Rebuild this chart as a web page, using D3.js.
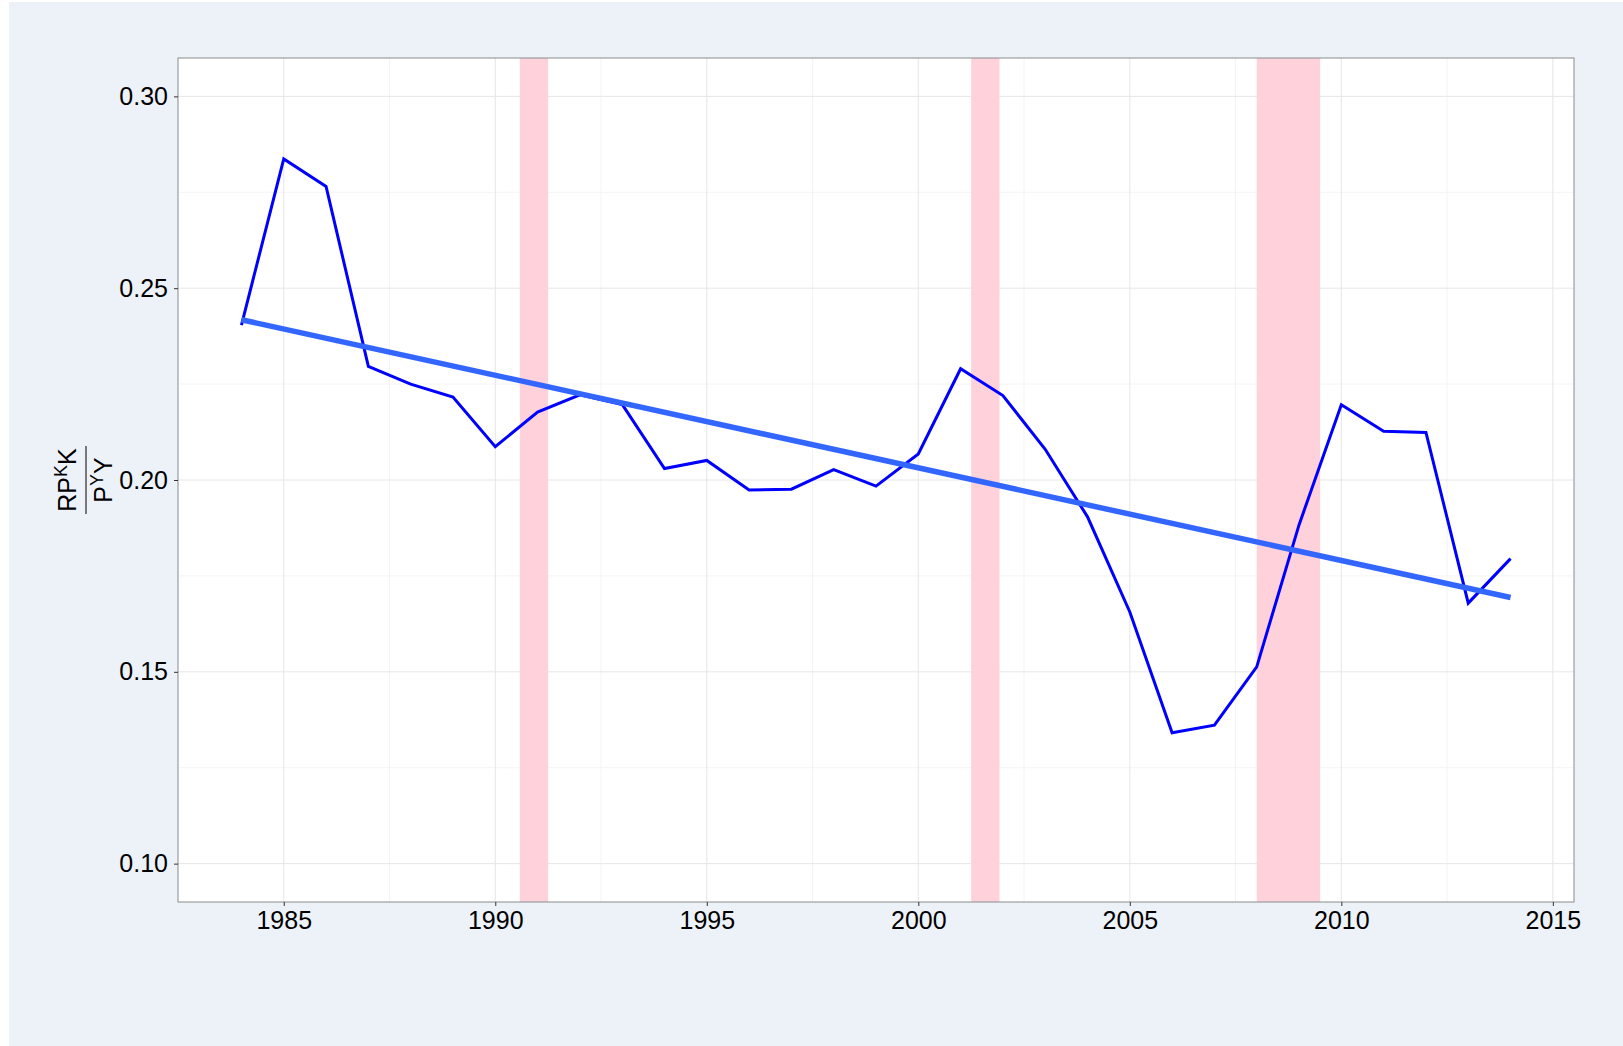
<!DOCTYPE html>
<html>
<head>
<meta charset="utf-8">
<script src="https://cdn.jsdelivr.net/npm/d3@7"></script>
<style>
  body { margin: 0; background: #fff; }
  text { font-family: "Liberation Sans", Arial, sans-serif; }
</style>
</head>
<body>
<script>
// data
var years = d3.range(1984, 2015);
var share = [0.2404, 0.2837, 0.2765, 0.2296, 0.2250, 0.2216, 0.2087, 0.2177, 0.2222, 0.2197,
             0.2030, 0.2051, 0.1974, 0.1976, 0.2027, 0.1984, 0.2068, 0.2290, 0.2220, 0.2080,
             0.1904, 0.1656, 0.1341, 0.1361, 0.1513, 0.1883, 0.2196, 0.2127, 0.2124, 0.1679,
             0.1795];
var recStart = [1990.58, 2001.25, 2008.0];
var recEnd   = [1991.25, 2001.92, 2009.5];
var xTicks = [1985, 1990, 1995, 2000, 2005, 2010, 2015];
var yTicks = [0.10, 0.15, 0.20, 0.25, 0.30];
var xMinor = [1987.5, 1992.5, 1997.5, 2002.5, 2007.5, 2012.5];
var yMinor = [0.125, 0.175, 0.225, 0.275];

var W = 1623, H = 1046;
var pL = 178, pT = 58, pR = 1574, pB = 902;

var svg = d3.select("body").append("svg")
    .attr("width", W)
    .attr("height", H);

svg.append("rect")
    .attr("x", 9).attr("y", 2)
    .attr("width", W - 9).attr("height", H - 2)
    .attr("fill", "#edf2f9");

var x = d3.scaleLinear().domain([1982.5, 2015.5]).range([pL, pR]);
var y = d3.scaleLinear().domain([0.09, 0.31]).range([pB, pT]);

svg.append("rect")
    .attr("x", pL).attr("y", pT)
    .attr("width", pR - pL).attr("height", pB - pT)
    .attr("fill", "#fff");

// grid
var grid = svg.append("g");
grid.selectAll(".xm").data(xMinor).enter().append("line")
    .attr("x1", d => x(d)).attr("x2", d => x(d))
    .attr("y1", pT).attr("y2", pB)
    .attr("stroke", "#f4f4f4").attr("stroke-width", 1);
grid.selectAll(".ym").data(yMinor).enter().append("line")
    .attr("x1", pL).attr("x2", pR)
    .attr("y1", d => y(d)).attr("y2", d => y(d))
    .attr("stroke", "#f4f4f4").attr("stroke-width", 1);
grid.selectAll(".xM").data(xTicks).enter().append("line")
    .attr("x1", d => x(d)).attr("x2", d => x(d))
    .attr("y1", pT).attr("y2", pB)
    .attr("stroke", "#e6e6e6").attr("stroke-width", 1);
grid.selectAll(".yM").data(yTicks).enter().append("line")
    .attr("x1", pL).attr("x2", pR)
    .attr("y1", d => y(d)).attr("y2", d => y(d))
    .attr("stroke", "#e6e6e6").attr("stroke-width", 1);

// recession bands
svg.append("g").selectAll("rect")
    .data(recStart.map((s, i) => [s, recEnd[i]]))
    .enter().append("rect")
      .attr("x", d => x(d[0]))
      .attr("width", d => x(d[1]) - x(d[0]))
      .attr("y", pT)
      .attr("height", pB - pT)
      .attr("fill", "#ffd1da");

// data line
var pts = years.map((yr, i) => [yr, share[i]]);
svg.append("path")
    .datum(pts)
    .attr("fill", "none")
    .attr("stroke", "#0000ff")
    .attr("stroke-width", 3)
    .attr("d", d3.line().x(d => x(d[0])).y(d => y(d[1])));

// linear fit
var mx = d3.mean(years), my = d3.mean(share);
var b = d3.sum(years, (v, i) => (v - mx) * (share[i] - my)) / d3.sum(years, v => (v - mx) * (v - mx));
var a = my - b * mx;
var ends = d3.extent(years);
svg.append("path")
    .datum(ends.map(v => [v, a + b * v]))
    .attr("fill", "none")
    .attr("stroke", "#3366ff")
    .attr("stroke-width", 5.5)
    .attr("d", d3.line().x(d => x(d[0])).y(d => y(d[1])));

// panel border
svg.append("rect")
    .attr("x", pL).attr("y", pT)
    .attr("width", pR - pL).attr("height", pB - pT)
    .attr("fill", "none")
    .attr("stroke", "#8c8c8c")
    .attr("stroke-width", 1);

// axes
var gx = svg.append("g")
    .attr("transform", `translate(0,${pB})`)
    .call(d3.axisBottom(x).tickValues(xTicks).tickFormat(d3.format("d")).tickSize(4).tickPadding(5));
var gy = svg.append("g")
    .attr("transform", `translate(${pL},0)`)
    .call(d3.axisLeft(y).tickValues(yTicks).tickFormat(d3.format(".2f")).tickSize(4).tickPadding(6));
[gx, gy].forEach(g => {
  g.select(".domain").remove();
  g.selectAll(".tick line").attr("stroke", "#333");
  g.selectAll(".tick text")
      .attr("fill", "#000")
      .style("font-size", "25px")
      .style("font-family", "'Liberation Sans', Arial, sans-serif");
});

// y label: RP^K K / P^Y Y
var lab = svg.append("g")
    .attr("transform", "translate(86,480) rotate(-90)")
    .style("font-size", "25px");
var num = lab.append("text")
    .attr("x", 0).attr("y", -10)
    .attr("text-anchor", "middle");
num.append("tspan").text("RP");
num.append("tspan").attr("dy", -9).style("font-size", "18px").text("K");
num.append("tspan").attr("dy", 9).text("K");
lab.append("line")
    .attr("x1", -34).attr("x2", 34)
    .attr("y1", 0).attr("y2", 0)
    .attr("stroke", "#000").attr("stroke-width", 1);
var den = lab.append("text")
    .attr("x", 0).attr("y", 26)
    .attr("text-anchor", "middle");
den.append("tspan").text("P");
den.append("tspan").attr("dy", -9).style("font-size", "18px").text("Y");
den.append("tspan").attr("dy", 9).text("Y");
</script>
</body>
</html>
